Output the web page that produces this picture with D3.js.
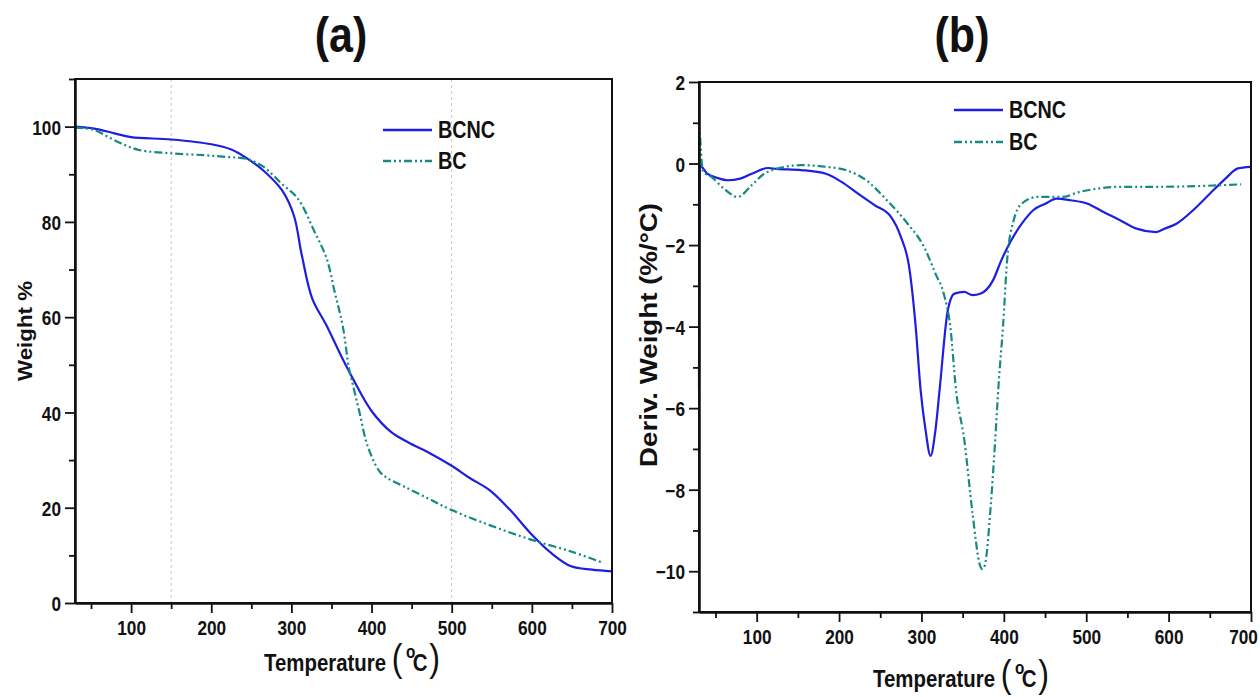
<!DOCTYPE html>
<meta charset="utf-8">
<script src="https://d3js.org/d3.v7.min.js"></script>
<style>
  body { margin: 0; background: #fff; }
  svg text { font-family: 'Liberation Sans', Arial, sans-serif; font-weight: bold; fill: #111; }
</style>
<div id="chart"></div>
<script>

// ---- data ----
// (a) TGA, weight %
const tgaTempBCNC = [30, 54, 79, 100, 150, 200, 225, 245, 265, 288, 303, 313, 326, 344, 364, 377, 400, 425, 446, 471, 500, 522, 548, 573, 598, 624, 649, 675, 700];
const tgaBCNC     = [100, 99.6, 98.6, 97.8, 97.3, 96.3, 95.2, 93.3, 90.8, 86.7, 81.4, 73, 63.9, 58.2, 51.2, 47, 40.3, 35.8, 33.7, 31.6, 28.8, 26.3, 23.6, 19.5, 14.7, 10.5, 7.7, 7, 6.65];

const tgaTempBC = [30, 54, 74, 90, 110, 150, 191, 222, 245, 265, 288, 308, 329, 344, 354, 364, 372, 377, 385, 395, 410, 420, 440, 470, 500, 548, 599, 649, 688];
const tgaBC     = [99.8, 99.3, 97.6, 96.3, 95.1, 94.4, 94, 93.6, 93.2, 91.6, 88, 84.9, 77.9, 72.3, 65.3, 58.2, 49.1, 45.6, 40, 33, 27.6, 26.2, 24.5, 22, 19.5, 16.3, 13.3, 10.8, 8.5];

// (b) DTG, deriv. weight %/°C
const dtgTempBCNC = [30, 31, 40, 52, 65, 80, 94, 114, 124, 154, 184, 203, 223, 243, 263, 275, 285, 293, 299, 305, 311, 317, 322, 332, 340, 352, 362, 372, 387, 397, 409, 422, 436, 451, 464, 481, 501, 521, 541, 560, 585, 595, 610, 630, 650, 669, 684, 699];
const dtgBCNC     = [-5.5, -0.05, -0.25, -0.35, -0.41, -0.37, -0.25, -0.11, -0.13, -0.16, -0.25, -0.45, -0.74, -1.02, -1.31, -1.8, -2.53, -4.0, -5.56, -6.54, -7.17, -6.54, -5.56, -3.6, -3.19, -3.15, -3.23, -3.19, -2.86, -2.37, -1.88, -1.47, -1.14, -0.98, -0.86, -0.9, -0.98, -1.19, -1.39, -1.59, -1.68, -1.6, -1.47, -1.14, -0.74, -0.37, -0.12, -0.08];

const dtgTempBC = [30, 35, 45, 60, 77, 94, 109, 124, 154, 184, 208, 233, 258, 283, 303, 317, 327, 335, 342, 352, 362, 371, 374, 377, 384, 389, 394, 399, 404, 412, 422, 441, 471, 491, 516, 541, 590, 640, 688];
const dtgBC     = [1.15, -0.2, -0.33, -0.61, -0.82, -0.53, -0.25, -0.13, -0.04, -0.08, -0.16, -0.41, -0.9, -1.47, -2.04, -2.7, -3.19, -4.0, -5.56, -6.78, -8.58, -9.85, -9.95, -9.85, -8.42, -6.95, -5.31, -4.0, -2.37, -1.39, -0.98, -0.82, -0.82, -0.7, -0.61, -0.57, -0.57, -0.55, -0.51];

const seriesNames = ['BCNC', 'BC'];
const xTicks = [100, 200, 300, 400, 500, 600, 700];
const xMinor = [50, 150, 250, 350, 450, 550, 650];
const yTicksA = [0, 20, 40, 60, 80, 100];
const yMinorA = [10, 30, 50, 70, 90, 110];
const yTicksB = [-10, -8, -6, -4, -2, 0, 2];
const yMinorB = [-11, -9, -7, -5, -3, -1, 1];
const gridA = [150, 500];

const blue = '#1e1ee2', teal = '#158a80';
const bcDash = '8,3,2,3,2,3';
const NARROW = 0.82;   // no Arial Narrow installed: squeeze the bold sans

const svg = d3.select('#chart').append('svg')
  .attr('width', 1260).attr('height', 697);

function drawPanel(p) {
  const x = d3.scaleLinear().domain([30, 700]).range([p.left, p.right]);
  const y = d3.scaleLinear().domain(p.ydom).range([p.bottom, p.top]);
  const g = svg.append('g');

  // light dashed verticals
  g.selectAll('line.grid').data(p.grid || []).join('line')
    .attr('x1', d => x(d)).attr('x2', d => x(d))
    .attr('y1', p.top).attr('y2', p.bottom)
    .attr('stroke', '#c4c4c4').attr('stroke-width', 1).attr('stroke-dasharray', '3,3');

  const line1 = d3.line().x(d => x(d[0])).y(d => y(d[1])).curve(p.curve);

  g.append('path').datum(d3.zip(p.t1, p.v1))
    .attr('d', line1).attr('fill', 'none').attr('stroke', blue).attr('stroke-width', 2.2);
  g.append('path').datum(d3.zip(p.t2, p.v2))
    .attr('d', line1).attr('fill', 'none').attr('stroke', teal).attr('stroke-width', 2.2)
    .attr('stroke-dasharray', bcDash);

  // frame
  g.append('rect').attr('x', p.left).attr('y', p.top)
    .attr('width', p.right - p.left).attr('height', p.bottom - p.top)
    .attr('fill', 'none').attr('stroke', '#111').attr('stroke-width', 2);

  // axes
  const xa = g.append('g').attr('transform', `translate(0,${p.bottom})`)
    .call(d3.axisBottom(x).tickValues(xTicks).tickSize(10).tickSizeOuter(0).tickPadding(7));
  g.append('g').attr('transform', `translate(0,${p.bottom})`)
    .call(d3.axisBottom(x).tickValues(xMinor).tickSize(6).tickFormat('').tickSizeOuter(0));
  const ya = g.append('g').attr('transform', `translate(${p.left},0)`)
    .call(d3.axisLeft(y).tickValues(p.yt).tickSize(10).tickSizeOuter(0));
  g.append('g').attr('transform', `translate(${p.left},0)`)
    .call(d3.axisLeft(y).tickValues(p.ym).tickSize(6).tickFormat('').tickSizeOuter(0));
  g.selectAll('.domain').attr('stroke', '#111').attr('stroke-width', 2);
  g.selectAll('.tick line').attr('stroke', '#111').attr('stroke-width', 1.8);
  g.selectAll('.tick text').style('font-size', '21px').attr('fill', '#111')
    .attr('transform', `scale(${NARROW},1)`);
  ya.selectAll('.tick text').attr('x', -14 / NARROW).attr('dy', '0.36em');
  if (p.right > 1200) xa.selectAll('.tick text').filter(d => d === 700).attr('x', -8 / NARROW);

  // title
  g.append('text').attr('transform', `translate(${p.titleX},52) scale(0.86,1)`)
    .attr('text-anchor', 'middle').style('font-size', '50px').text(p.title);

  // y label
  g.append('text')
    .attr('transform', `translate(${p.ylabX},${p.ylabY}) rotate(-90)`)
    .attr('text-anchor', 'middle').style('font-size', p.ylabSize + 'px')
    .attr('textLength', p.ylabLen).attr('lengthAdjust', 'spacingAndGlyphs')
    .text(p.ylab);

  // x label: Temperature (°C)
  const xl = g.append('text').attr('transform', `translate(${p.xlabX},${p.xlabY}) scale(0.85,1)`)
    .attr('text-anchor', 'middle');
  xl.append('tspan').style('font-size', '24px').text('Temperature ');
  xl.append('tspan').style('font-size', '38px').style('font-weight', 'normal').text('(');
  xl.append('tspan').style('font-size', '18px').attr('dy', -13).attr('dx', 4).text('o');
  xl.append('tspan').style('font-size', '24px').attr('dy', 13).attr('dx', -3).text('C');
  xl.append('tspan').style('font-size', '38px').style('font-weight', 'normal').attr('dx', 2).text(')');

  // legend
  const lg = g.append('g');
  seriesNames.forEach((name, i) => {
    const yy = p.legY + i * p.legGap;
    lg.append('line').attr('x1', p.legX).attr('x2', p.legX + 49)
      .attr('y1', yy).attr('y2', yy)
      .attr('stroke', i === 0 ? blue : teal).attr('stroke-width', 2.4)
      .attr('stroke-dasharray', i === 0 ? null : bcDash);
    lg.append('text').attr('transform', `translate(${p.legX + 55},${yy + 8}) scale(0.86,1)`)
      .style('font-size', '23px').text(name);
  });
}

drawPanel({
  left: 75, right: 612, top: 79, bottom: 603, ydom: [0, 110],
  yt: yTicksA, ym: yMinorA, grid: gridA, curve: d3.curveCatmullRom.alpha(0.5),
  t1: tgaTempBCNC, v1: tgaBCNC, t2: tgaTempBC, v2: tgaBC,
  title: '(a)', titleX: 341,
  ylab: 'Weight %', ylabX: 32, ylabY: 331, ylabSize: 21, ylabLen: 100,
  xlabX: 352, xlabY: 671,
  legX: 383, legY: 130, legGap: 31
});

drawPanel({
  left: 699, right: 1251, top: 82, bottom: 612, ydom: [-11, 2],
  yt: yTicksB, ym: yMinorB, grid: [], curve: d3.curveMonotoneX,
  t1: dtgTempBCNC, v1: dtgBCNC, t2: dtgTempBC, v2: dtgBC,
  title: '(b)', titleX: 962,
  ylab: 'Deriv. Weight (%/°C)', ylabX: 657, ylabY: 335, ylabSize: 23, ylabLen: 264,
  xlabX: 961, xlabY: 687,
  legX: 954, legY: 110, legGap: 32
});

</script>
